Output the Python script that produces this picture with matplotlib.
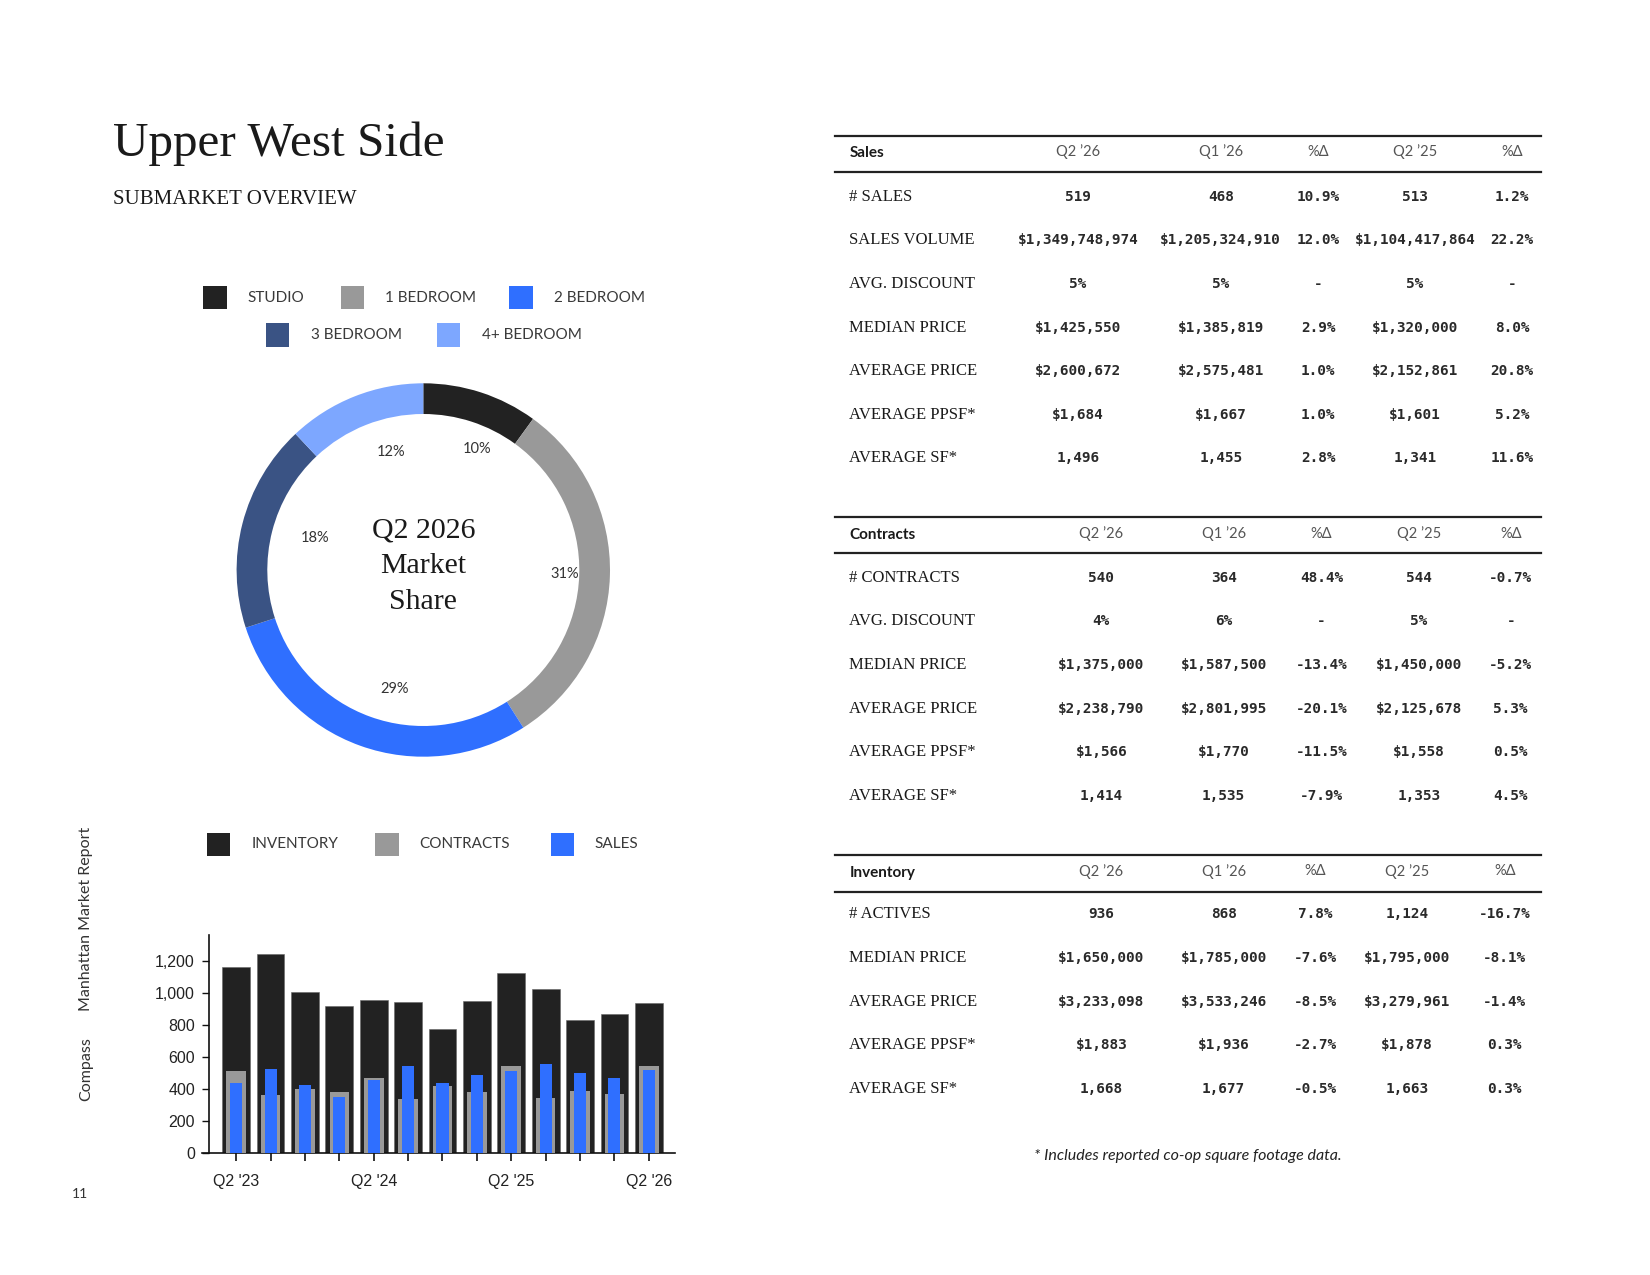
import matplotlib
matplotlib.use("Agg")
import math
import matplotlib.pyplot as plt
from matplotlib.lines import Line2D
from matplotlib.patches import Rectangle

# ---------------- data ----------------
unit_types = ["STUDIO", "1 BEDROOM", "2 BEDROOM", "3 BEDROOM", "4+ BEDROOM"]
unit_share = [10, 31, 29, 18, 12]
unit_colors = ["#222222", "#999999", "#2F6FFF", "#3A5384", "#7DA7FF"]

quarters = ["Q2 '23", "Q3 '23", "Q4 '23", "Q1 '24", "Q2 '24", "Q3 '24", "Q4 '24",
            "Q1 '25", "Q2 '25", "Q3 '25", "Q4 '25", "Q1 '26", "Q2 '26"]
inventory = [1158, 1240, 1004, 915, 952, 942, 775, 946, 1124, 1021, 829, 868, 936]
contracts = [510, 360, 400, 377, 467, 335, 415, 379, 544, 342, 385, 364, 540]
sales = [437, 521, 423, 346, 456, 544, 433, 487, 513, 552, 496, 468, 519]

table_cols = ["Q2 \u201926", "Q1 \u201926", "%\u0394", "Q2 \u201925", "%\u0394"]

sales_labels = ["# SALES", "SALES VOLUME", "AVG. DISCOUNT", "MEDIAN PRICE",
                "AVERAGE PRICE", "AVERAGE PPSF*", "AVERAGE SF*"]
sales_rows = [
    ["519", "468", "10.9%", "513", "1.2%"],
    ["$1,349,748,974", "$1,205,324,910", "12.0%", "$1,104,417,864", "22.2%"],
    ["5%", "5%", "-", "5%", "-"],
    ["$1,425,550", "$1,385,819", "2.9%", "$1,320,000", "8.0%"],
    ["$2,600,672", "$2,575,481", "1.0%", "$2,152,861", "20.8%"],
    ["$1,684", "$1,667", "1.0%", "$1,601", "5.2%"],
    ["1,496", "1,455", "2.8%", "1,341", "11.6%"],
]

contract_labels = ["# CONTRACTS", "AVG. DISCOUNT", "MEDIAN PRICE", "AVERAGE PRICE",
                   "AVERAGE PPSF*", "AVERAGE SF*"]
contract_rows = [
    ["540", "364", "48.4%", "544", "-0.7%"],
    ["4%", "6%", "-", "5%", "-"],
    ["$1,375,000", "$1,587,500", "-13.4%", "$1,450,000", "-5.2%"],
    ["$2,238,790", "$2,801,995", "-20.1%", "$2,125,678", "5.3%"],
    ["$1,566", "$1,770", "-11.5%", "$1,558", "0.5%"],
    ["1,414", "1,535", "-7.9%", "1,353", "4.5%"],
]

inventory_labels = ["# ACTIVES", "MEDIAN PRICE", "AVERAGE PRICE", "AVERAGE PPSF*",
                    "AVERAGE SF*"]
inventory_rows = [
    ["936", "868", "7.8%", "1,124", "-16.7%"],
    ["$1,650,000", "$1,785,000", "-7.6%", "$1,795,000", "-8.1%"],
    ["$3,233,098", "$3,533,246", "-8.5%", "$3,279,961", "-1.4%"],
    ["$1,883", "$1,936", "-2.7%", "$1,878", "0.3%"],
    ["1,668", "1,677", "-0.5%", "1,663", "0.3%"],
]

# ---------------- figure ----------------
W, H = 1650, 1275
fig = plt.figure(figsize=(W / 100, H / 100), dpi=100)
fig.patch.set_facecolor("white")

SERIF = ["Liberation Serif", "DejaVu Serif"]
SANS = ["Lato", "DejaVu Sans"]
MONO = ["DejaVu Sans Mono"]
DARK = "#1a1a1a"


def fx(x):
    return x / W


def fy(y):
    return 1 - y / H


def ftext(x, y, s, **kw):
    fig.text(fx(x), fy(y), s, **kw)


def hline(x0, x1, y, lw=1.6, color="#222222"):
    fig.add_artist(Line2D([fx(x0), fx(x1)], [fy(y), fy(y)], transform=fig.transFigure,
                          color=color, lw=lw))


def square(xl, yc, size, color):
    fig.add_artist(Rectangle((fx(xl), fy(yc + size / 2)), size / W, size / H,
                             transform=fig.transFigure, facecolor=color, edgecolor="none"))


# ---------------- titles ----------------
ftext(113, 156, "Upper West Side", family=SERIF, fontsize=35.5, color=DARK, va="baseline")
ftext(113, 204, "SUBMARKET OVERVIEW", family=SERIF, fontsize=15, color=DARK, va="baseline")

# ---------------- donut legend ----------------
donut_leg = [(203, 247, 297.7), (340.7, 385, 297.7), (509.3, 554, 297.7),
             (265.7, 310.7, 335), (437, 481.7, 335)]
for (sx, tx, yc), lab, col in zip(donut_leg, unit_types, unit_colors):
    square(sx, yc, 23.5, col)
    ftext(tx, yc, lab, family=SANS, fontsize=11, color="#3a3a3a", va="center", ha="left")

# ---------------- donut ----------------
cx, cy, R = 423.3, 570, 186.7
axd = fig.add_axes([fx(cx - R), fy(cy + R), 2 * R / W, 2 * R / H])
wedges, _ = axd.pie(unit_share, colors=unit_colors, startangle=90, counterclock=False,
                    wedgeprops=dict(width=1 - 156 / 186.7, edgecolor="none"))
for w, v in zip(wedges, unit_share):
    ang = math.radians((w.theta1 + w.theta2) / 2)
    axd.text(0.68 * math.cos(ang), 0.68 * math.sin(ang), f"{v}%", ha="left", va="center",
             family=SANS, fontsize=10.5, color="#333333")
axd.set_xlim(-1, 1)
axd.set_ylim(-1, 1)
axd.set_aspect("equal")
axd.axis("off")
for s, yy in zip(["Q2 2026", "Market", "Share"], [530, 566, 601.7]):
    ftext(cx, yy, s, family=SERIF, fontsize=21.5, color=DARK, ha="center", va="center")

# ---------------- bar legend ----------------
bar_leg = [(206.6, 251.4, "INVENTORY", "#222222"),
           (375, 419.7, "CONTRACTS", "#999999"),
           (550.6, 594.6, "SALES", "#2F6FFF")]
for sx, tx, lab, col in bar_leg:
    square(sx, 844.3, 23.5, col)
    ftext(tx, 844.3, lab, family=SANS, fontsize=11, color="#3a3a3a", va="center")

# ---------------- bar chart ----------------
left, right, bottom, top = 209.3, 675, 1152.7, 934.7
axb = fig.add_axes([fx(left), fy(bottom), (right - left) / W, (bottom - top) / H])
xs = list(range(len(quarters)))
axb.bar(xs, inventory, width=0.81, color="#222222", edgecolor="#666666", linewidth=0.4, zorder=2)
axb.bar(xs, contracts, width=0.57, color="#999999", zorder=3)
axb.bar(xs, sales, width=0.35, color="#2F6FFF", zorder=4)
axb.set_xlim(-0.78, 12.76)
axb.set_ylim(0, 1362)
axb.set_yticks([0, 200, 400, 600, 800, 1000, 1200])
axb.set_yticklabels(["0", "200", "400", "600", "800", "1,000", "1,200"])
axb.set_xticks(xs)
axb.set_xticklabels([q if i % 4 == 0 else "" for i, q in enumerate(quarters)])
for lab in axb.get_xticklabels() + axb.get_yticklabels():
    lab.set_family(["Liberation Sans", "DejaVu Sans"])
    lab.set_fontsize(11.5)
    lab.set_color("#222222")
axb.tick_params(axis="x", length=5.5, width=1.2, pad=10, color="#111111")
axb.tick_params(axis="y", length=5.3, width=1.0, pad=5, color="#111111")
for sp in ["top", "right"]:
    axb.spines[sp].set_visible(False)
for sp in ["left", "bottom"]:
    axb.spines[sp].set_linewidth(1.2)
    axb.spines[sp].set_color("#111111")
axb.spines["bottom"].set_bounds(-1.0, 12.76)
axb.spines["bottom"].set_clip_on(False)
axb.set_facecolor("none")

# ---------------- side text ----------------
ftext(86, 1069, "Compass", family=SANS, fontsize=11.5, rotation=90, ha="center", va="center",
      color="#333333")
ftext(86, 919, "Manhattan Market Report", family=SANS, fontsize=11.5, rotation=90, ha="center",
      va="center", color="#333333")
ftext(80, 1194, "11", family=SANS, fontsize=10, ha="center", va="center", color="#333333")


# ---------------- tables ----------------
def draw_table(title, labels, rows, y_top, y_head, y_line2, row_y, col_x):
    hline(834.6, 1540.7, y_top)
    hline(834.6, 1540.7, y_line2)
    ftext(849.4, y_head, title, family=SANS, fontsize=11, fontweight="bold", color=DARK,
          va="center")
    for c, x in zip(table_cols, col_x):
        ftext(x, y_head - 1.5, c, family=SANS, fontsize=10.5, color="#555555", ha="center",
              va="center")
    for lab, vals, y in zip(labels, rows, row_y):
        ftext(849.4, y, lab, family=SERIF, fontsize=12, color=DARK, va="center")
        for v, x in zip(vals, col_x):
            ftext(x, y, v, family=MONO, fontsize=10.4, fontweight="bold", color="#2a2a2a",
                  ha="center", va="center")


sales_y = [196.7 + 43.6 * i for i in range(len(sales_labels))]
draw_table("Sales", sales_labels, sales_rows, 136, 153, 172.3, sales_y,
           [1077.8, 1220.7, 1318.3, 1415, 1512.3])

contract_y = [577.7 + 43.7 * i for i in range(len(contract_labels))]
draw_table("Contracts", contract_labels, contract_rows, 517.3, 535, 553.3, contract_y,
           [1101.3, 1223.6, 1321.5, 1418.8, 1510.7])

inventory_y = [914 + 43.8 * i for i in range(len(inventory_labels))]
draw_table("Inventory", inventory_labels, inventory_rows, 855, 872.7, 891.7, inventory_y,
           [1101.3, 1223.6, 1315.5, 1406.8, 1504.7])

ftext(1187.6, 1156, "* Includes reported co-op square footage data.", family=SANS,
      fontsize=11.5, style="italic", color="#222222", ha="center", va="center")

fig.savefig("out.png", dpi=100, facecolor="white")
